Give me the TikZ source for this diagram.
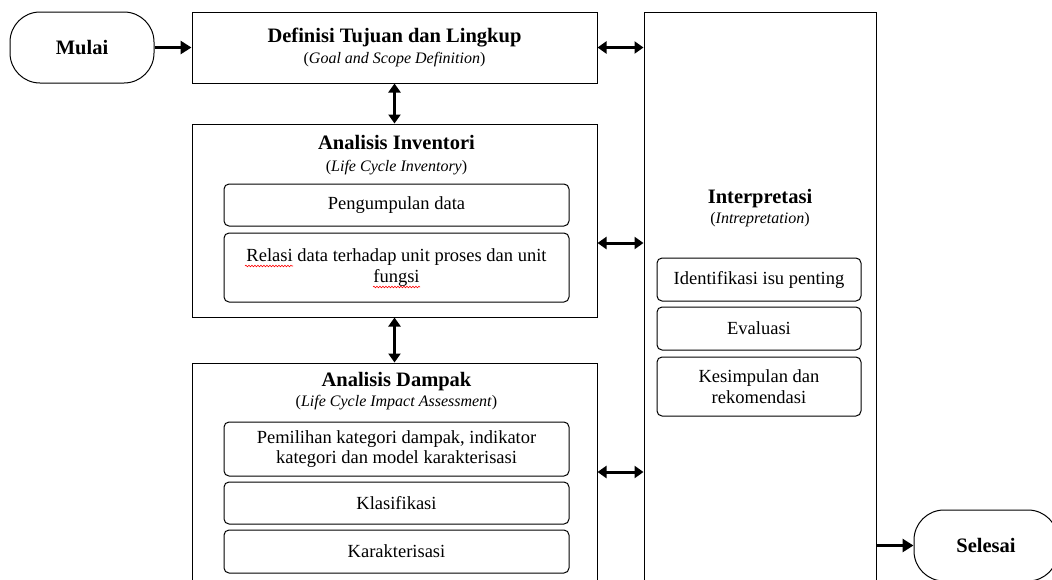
\documentclass[tikz,border=0pt]{standalone}
\usepackage{fontspec}
\setmainfont{Liberation Serif}
\usetikzlibrary{arrows.meta,decorations.pathmorphing}
\newcommand\myTitleF{\fontsize{20.5}{24}\selectfont\bfseries}
\newcommand\mySubF{\fontsize{16}{19}\selectfont}
\newcommand\myTextF{\fontsize{18.5}{20.5}\selectfont}
\begin{document}
\begin{tikzpicture}[x=1pt,y=-1pt,
  box/.style={draw, line width=1pt, inner sep=0pt},
  term/.style={draw, line width=1pt, inner sep=0pt, rounded corners=30pt, minimum width=144pt, minimum height=71pt, font=\myTitleF},
  subbox/.style={draw, line width=1pt, rounded corners=5pt, inner sep=0pt, align=center, font=\myTextF},
  ttl/.style={inner sep=0pt, font=\myTitleF},
  sbt/.style={inner sep=0pt, font=\mySubF},
  arr/.style={line width=3pt, -{Triangle[length=11pt,width=13pt]}},
  biarr/.style={line width=3pt, {Triangle[length=9pt,width=12pt]}-{Triangle[length=9pt,width=12pt]}},
  squig/.style={draw=red, line width=0.6pt, decorate, decoration={snake, segment length=3pt, amplitude=0.8pt}}
]
\clip (0,0) rectangle (1052,579);
\fill[white] (0,0) rectangle (1052,579);

% terminals
\node[term] (mulai) at (82,47.5) {Mulai};
\node[term] (selesai) at (986,545.5) {Selesai};

% main boxes
\node[box, minimum width=405pt, minimum height=71pt] (def) at (394.5,47.5) {};
\node[ttl] (defT) at (394.5,38) {Definisi Tujuan dan Lingkup};
\node[sbt] (defS) at (394.5,60) {(\textit{Goal and Scope Definition})};

\node[box, minimum width=405pt, minimum height=193pt] (inv) at (394.5,220.5) {};
\node[ttl] (invT) at (396.5,142) {Analisis Inventori};
\node[sbt] (invS) at (396.5,168) {(\textit{Life Cycle Inventory})};
\node[subbox, minimum width=345pt, minimum height=42pt] (inv1) at (396.5,205) {Pengumpulan data};
\node[subbox, minimum width=345pt, minimum height=69pt] (inv2) at (396.5,267.5) {Relasi data terhadap unit proses dan unit\\fungsi};

\node[box, minimum width=405pt, minimum height=250pt] (dam) at (394.5,488) {};
\node[ttl] (damT) at (396.5,382) {Analisis Dampak};
\node[sbt] (damS) at (396.5,403) {(\textit{Life Cycle Impact Assessment})};
\node[subbox, minimum width=345pt, minimum height=54pt] (dam1) at (396.5,449) {Pemilihan kategori dampak, indikator\\kategori dan model karakterisasi};
\node[subbox, minimum width=345pt, minimum height=42pt] (dam2) at (396.5,503) {Klasifikasi};
\node[subbox, minimum width=345pt, minimum height=43pt] (dam3) at (396.5,551.5) {Karakterisasi};

\node[box, minimum width=232pt, minimum height=600pt] (int) at (760,312) {};
\node[ttl] (intT) at (760,199) {Interpretasi};
\node[sbt] (intS) at (760,220) {(\textit{Intrepretation})};
\node[subbox, minimum width=204pt, minimum height=43pt] (int1) at (759,279.5) {Identifikasi isu penting};
\node[subbox, minimum width=204pt, minimum height=43pt] (int2) at (759,328.5) {Evaluasi};
\node[subbox, minimum width=204pt, minimum height=59pt] (int3) at (759,386.5) {Kesimpulan dan\\rekomendasi};

% spell-check underlines
\draw[squig] (245,266) -- (293,266);
\draw[squig] (373,287) -- (420,287);

% connectors
\coordinate (yA) at (0,243);
\coordinate (yB) at (0,472);
\draw[arr] (mulai.east) -- (def.west);
\draw[biarr] (def.east) -- (def.east -| int.west);
\draw[biarr] (def.south) -- (def.south |- inv.north);
\draw[biarr] (inv.south) -- (inv.south |- dam.north);
\draw[biarr] (inv.east |- yA) -- (int.west |- yA);
\draw[biarr] (dam.east |- yB) -- (int.west |- yB);
\draw[arr] (int.east |- selesai.west) -- (selesai.west);
\end{tikzpicture}
\end{document}
